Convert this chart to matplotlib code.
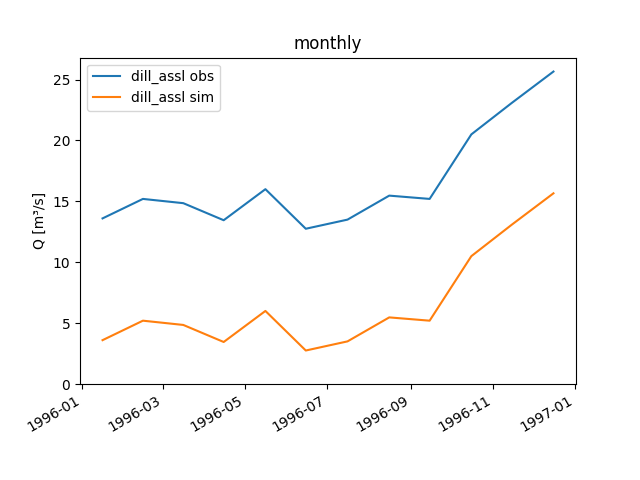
import matplotlib
matplotlib.use("Agg")
import matplotlib.pyplot as plt
import pandas as pd

dates = pd.to_datetime(["1996-01-16", "1996-02-15", "1996-03-16", "1996-04-15",
                        "1996-05-16", "1996-06-15", "1996-07-16", "1996-08-16",
                        "1996-09-15", "1996-10-16", "1996-11-15", "1996-12-16"])
obs = [13.6, 15.2, 14.85, 13.45, 16.0, 12.75, 13.5, 15.47, 15.2, 20.5, 23.08, 25.66]
sim = [3.6, 5.2, 4.85, 3.45, 6.0, 2.75, 3.5, 5.47, 5.2, 10.5, 13.08, 15.66]

fig, ax = plt.subplots(figsize=(6.4, 4.8), dpi=100)
ax.plot(dates, obs, label="dill_assl obs")
ax.plot(dates, sim, label="dill_assl sim")
ax.set_ylim(bottom=0)
ax.set_title("monthly")
ax.set_ylabel("Q [m³/s]")
ax.legend(loc="upper left")
fig.autofmt_xdate()
fig.savefig("out.png")
